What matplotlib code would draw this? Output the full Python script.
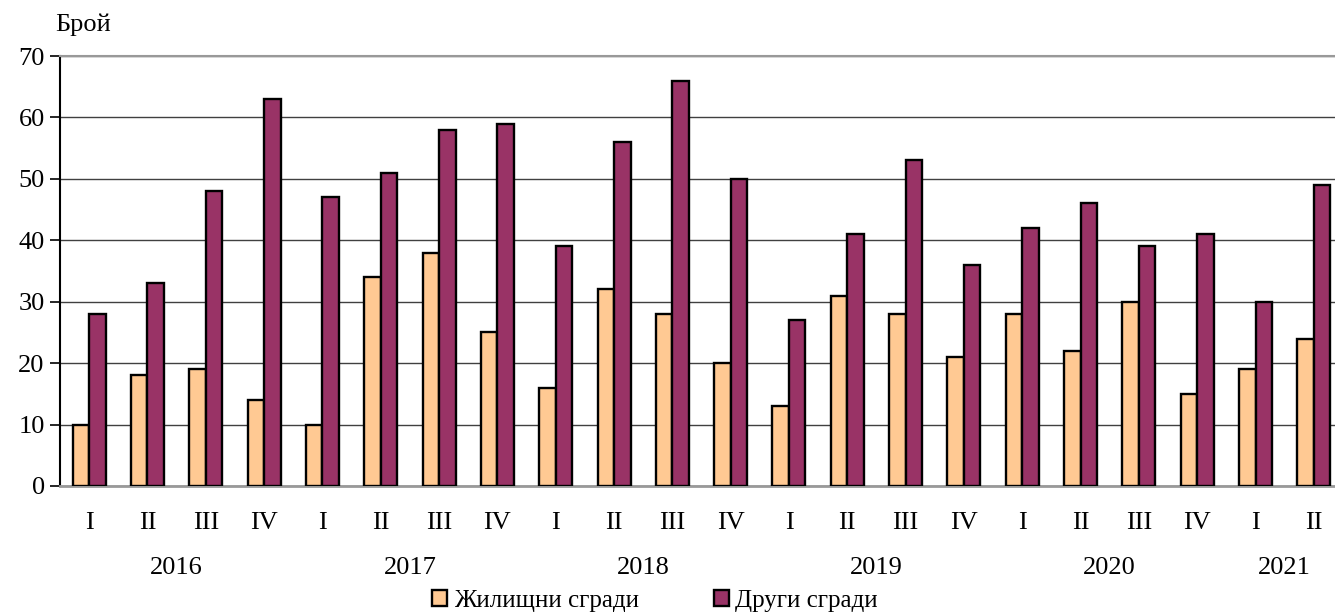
import matplotlib
matplotlib.use("Agg")
import matplotlib.pyplot as plt
from matplotlib.patches import Patch
import numpy as np

quarters = ["I", "II", "III", "IV"] * 5 + ["I", "II"]
years = ["2016", "2017", "2018", "2019", "2020", "2021"]
residential = [10, 18, 19, 14, 10, 34, 38, 25, 16, 32, 28, 20, 13, 31, 28, 21, 28, 22, 30, 15, 19, 24]
other = [28, 33, 48, 63, 47, 51, 58, 59, 39, 56, 66, 50, 27, 41, 53, 36, 42, 46, 39, 41, 30, 49]
series_names = ["Жилищни сгради", "Други сгради"]
colors = ["#FFC993", "#993366"]

plt.rcParams["font.family"] = ["Liberation Serif", "DejaVu Serif"]

W, H = 1335, 612
fig = plt.figure(figsize=(W / 100, H / 100), dpi=100)
left, right, top, bottom = 60, 1343, 56, 486
ax = fig.add_axes([left / W, (H - bottom) / H, (right - left) / W, (bottom - top) / H])

x = np.arange(len(quarters))
bw = 0.283
ax.bar(x - bw / 2, residential, bw, color=colors[0], edgecolor="black", linewidth=1.7, zorder=3)
ax.bar(x + bw / 2, other, bw, color=colors[1], edgecolor="black", linewidth=1.7, zorder=3)

ax.set_xlim(-0.5, len(quarters) - 0.5)
ax.set_ylim(0, 70)
ax.set_yticks(range(0, 71, 10))
ax.yaxis.grid(True, color="#404040", linewidth=1.0, zorder=0)
ax.set_axisbelow(True)

ax.spines["right"].set_visible(False)
ax.spines["top"].set_color("#999999")
ax.spines["top"].set_linewidth(1.5)
ax.spines["bottom"].set_color("#999999")
ax.spines["bottom"].set_linewidth(2)
ax.spines["left"].set_color("black")
ax.spines["left"].set_linewidth(1.5)

ax.tick_params(axis="y", length=7, width=1.2, labelsize=19, pad=4)
ax.set_xticks(x)
ax.set_xticklabels(quarters, fontsize=19)
ax.tick_params(axis="x", length=0, pad=19)

# year labels
for i, yr in enumerate(years):
    idx = [j for j in range(i * 4, min(i * 4 + 4, len(quarters)))]
    cx = np.mean(idx)
    ax.text(cx, -13.4, yr, ha="center", va="center", fontsize=19,
            transform=ax.transData, clip_on=False)

fig.text(55 / W, 1 - 25 / H, "Брой", fontsize=19, ha="left", va="center")

handles = [Patch(facecolor=c, edgecolor="black", linewidth=1.7) for c in colors]
fig.legend(handles, series_names, loc="center", bbox_to_anchor=(655 / W, 1 - 601 / H),
           ncol=2, frameon=False, fontsize=18, handlelength=0.6, handleheight=0.6,
           handletextpad=0.25, columnspacing=3.0, borderaxespad=0)

fig.savefig("out.png", dpi=100)
